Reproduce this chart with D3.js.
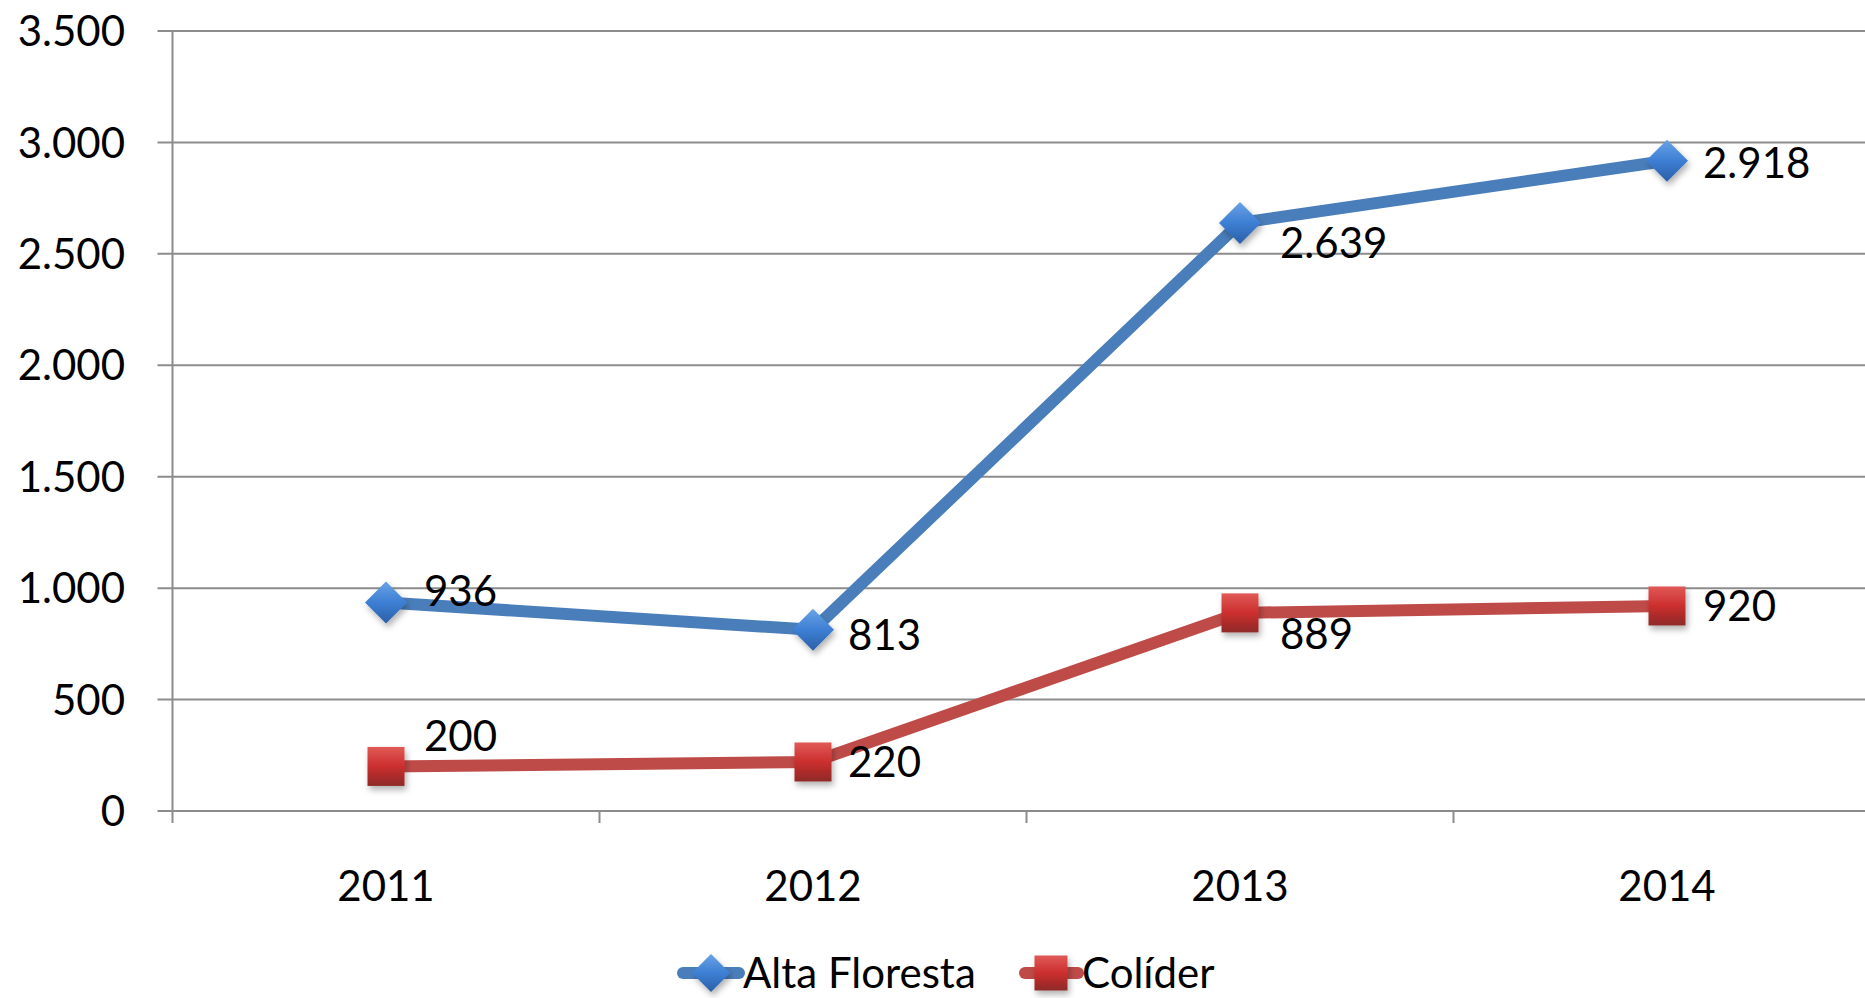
<!DOCTYPE html>
<html><head><meta charset="utf-8">
<script src="https://cdn.jsdelivr.net/npm/d3@7/dist/d3.min.js"></script>
<style>html,body{margin:0;padding:0;background:#fff;overflow:hidden}svg{display:block}text{font-family:Lato,"Open Sans",sans-serif;fill:#000}</style>
</head><body>
<svg id="c" width="1865" height="998"></svg>
<script>
const categories = ["2011","2012","2013","2014"];
const altaFloresta = [936, 813, 2639, 2918];
const colider = [200, 220, 889, 920];
const seriesNames = ["Alta Floresta","Colíder"];
const yTicks = [0,500,1000,1500,2000,2500,3000,3500];
// label offsets (dx, dy) relative to point
const altaLabelOffset = [[38,-12],[35,5],[40,20],[36,2]];
const coliderLabelOffset = [[38,-31],[35,0],[40,21],[36,0]];

(function(){
const fmt = v => d3.format(",")(v).replace(/,/g,".");
const svg = d3.select("#c");
const pLeft = 172.5, pTop = 31, pBottom = 811, band = 427;
const x = d3.scaleBand().domain(categories).range([pLeft, pLeft + band*categories.length]);
const y = d3.scaleLinear().domain([0,3500]).range([pBottom, pTop]);
const cx = c => x(c) + x.bandwidth()/2;

const defs = svg.append("defs");
const gb = defs.append("linearGradient").attr("id","gb").attr("x1",0).attr("y1",0).attr("x2",0).attr("y2",1);
gb.append("stop").attr("offset","0%").attr("stop-color","#6aa2e6");
gb.append("stop").attr("offset","50%").attr("stop-color","#3d7fd4");
gb.append("stop").attr("offset","100%").attr("stop-color","#2c5fa6");
const gr = defs.append("linearGradient").attr("id","gr").attr("x1",0).attr("y1",0).attr("x2",0).attr("y2",1);
gr.append("stop").attr("offset","0%").attr("stop-color","#e05a57");
gr.append("stop").attr("offset","50%").attr("stop-color","#cc2e2e");
gr.append("stop").attr("offset","100%").attr("stop-color","#8e2a28");
const sh = defs.append("filter").attr("id","sh").attr("x","-50%").attr("y","-50%").attr("width","200%").attr("height","200%");
sh.append("feDropShadow").attr("dx",2).attr("dy",4).attr("stdDeviation",3).attr("flood-color","#000").attr("flood-opacity",0.3);

svg.append("g").selectAll("line").data(yTicks).join("line")
  .attr("x1", pLeft-15).attr("x2", 1865).attr("y1", d=>y(d)).attr("y2", d=>y(d))
  .attr("stroke","#8c8c8c").attr("stroke-width",2);
svg.append("line").attr("x1",pLeft).attr("x2",pLeft).attr("y1",pTop).attr("y2",pBottom+12).attr("stroke","#8c8c8c").attr("stroke-width",2);
svg.append("g").selectAll("line").data(categories.slice(1)).join("line")
  .attr("x1", d=>x(d)).attr("x2", d=>x(d)).attr("y1", pBottom).attr("y2", pBottom+12)
  .attr("stroke","#8c8c8c").attr("stroke-width",2);
svg.append("g").selectAll("text").data(yTicks).join("text")
  .attr("x",125).attr("y",d=>y(d)).attr("dy","0.36em").attr("text-anchor","end")
  .attr("font-size",42).text(fmt);
svg.append("g").selectAll("text").data(categories).join("text")
  .attr("x",d=>cx(d)).attr("y",886).attr("dy","0.36em").attr("text-anchor","middle")
  .attr("font-size",42).text(d=>d);

const line = d3.line().x((d,i)=>cx(categories[i])).y(d=>y(d));
const blue = "#4a7ebb", red = "#be4b48";
svg.append("path").datum(altaFloresta).attr("d",line).attr("fill","none").attr("stroke",blue).attr("stroke-width",12).attr("stroke-linejoin","round");
svg.append("path").datum(colider).attr("d",line).attr("fill","none").attr("stroke",red).attr("stroke-width",12).attr("stroke-linejoin","round");

const diamond = (g, px, py, s) => g.append("path")
  .attr("d",`M${px},${py-s}L${px+s},${py}L${px},${py+s}L${px-s},${py}Z`)
  .attr("fill","url(#gb)").attr("filter","url(#sh)");
const square = (g, px, py, w, h) => g.append("rect")
  .attr("x",px-w/2).attr("y",py-h/2).attr("width",w).attr("height",h)
  .attr("fill","url(#gr)").attr("filter","url(#sh)");

const mk = svg.append("g");
altaFloresta.forEach((v,i)=>diamond(mk, cx(categories[i]), y(v), 21));
colider.forEach((v,i)=>square(mk, cx(categories[i]), y(v), 37, 39));

const lab = svg.append("g");
lab.selectAll("text.a").data(altaFloresta).join("text").attr("class","a")
  .attr("x",(d,i)=>cx(categories[i])+altaLabelOffset[i][0])
  .attr("y",(d,i)=>y(d)+altaLabelOffset[i][1]).attr("dy","0.36em")
  .attr("font-size",42).text(fmt);
lab.selectAll("text.c").data(colider).join("text").attr("class","c")
  .attr("x",(d,i)=>cx(categories[i])+coliderLabelOffset[i][0])
  .attr("y",(d,i)=>y(d)+coliderLabelOffset[i][1]).attr("dy","0.36em")
  .attr("font-size",42).text(fmt);

const ly = 973;
const lg = svg.append("g");
lg.append("line").attr("x1",683).attr("x2",739).attr("y1",ly).attr("y2",ly).attr("stroke",blue).attr("stroke-width",12).attr("stroke-linecap","round");
diamond(lg, 711, ly, 19);
lg.append("text").attr("x",743).attr("y",ly).attr("dy","0.36em").attr("font-size",42).text(seriesNames[0]);
lg.append("line").attr("x1",1025).attr("x2",1078).attr("y1",ly).attr("y2",ly).attr("stroke",red).attr("stroke-width",12).attr("stroke-linecap","round");
square(lg, 1051, ly, 33, 35);
lg.append("text").attr("x",1082).attr("y",ly).attr("dy","0.36em").attr("font-size",42).text(seriesNames[1]);
})();
</script>
</body></html>
